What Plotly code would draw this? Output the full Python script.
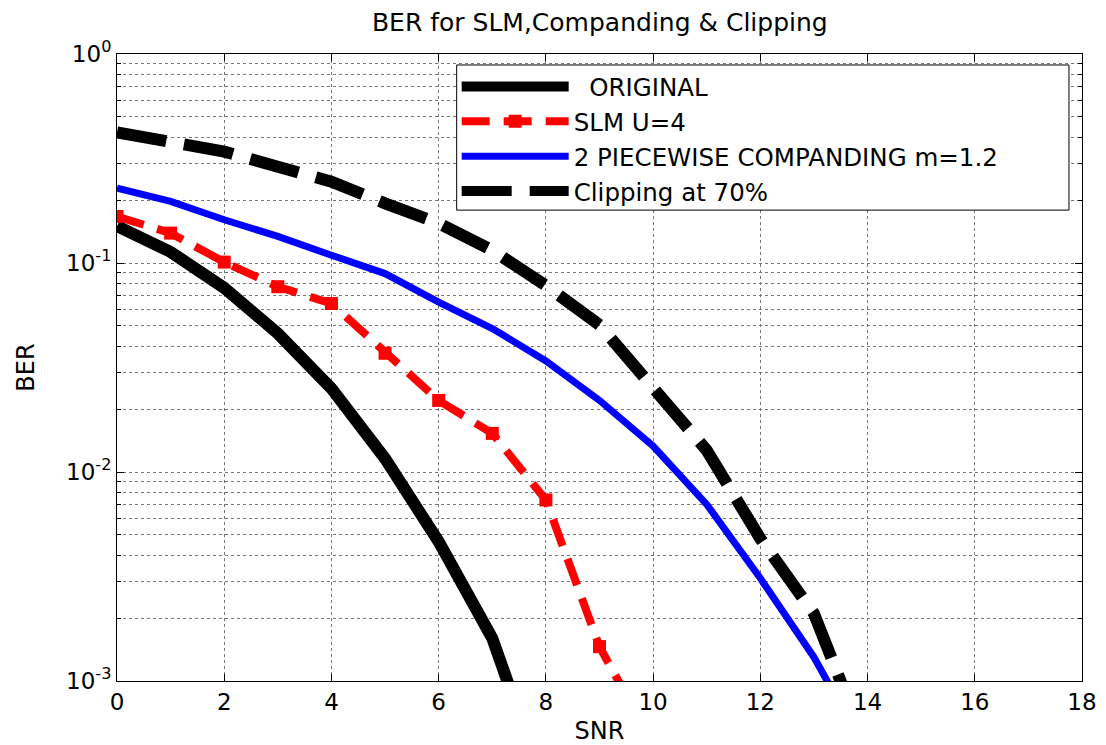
import plotly.graph_objects as go

snr = list(range(0, 15))

ber_original = [0.150, 0.113, 0.076, 0.046, 0.0251, 0.0116, 0.00464, 0.0016, 0.0003]
ber_slm = [0.167, 0.139, 0.101, 0.077, 0.064, 0.037, 0.022, 0.0153, 0.00735, 0.00146, 0.0005]
ber_companding = [0.228, 0.197, 0.161, 0.134, 0.109, 0.089, 0.065, 0.0486, 0.034, 0.022,
                  0.0133, 0.0070, 0.0031, 0.0013, 0.00045]
ber_clipping = [0.422, 0.38, 0.341, 0.289, 0.245, 0.193, 0.155, 0.115, 0.078, 0.0505,
                0.0255, 0.0127, 0.0048, 0.0021, 0.00047]

names = ["  ORIGINAL", "SLM U=4", "2 PIECEWISE COMPANDING m=1.2", "Clipping at 70%"]

y_tickvals = [1e-3, 1e-2, 1e-1, 1]
y_ticktext = ["10<sup>-3</sup>", "10<sup>-2</sup>", "10<sup>-1</sup>", "10<sup>0</sup>"]
x_tickvals = list(range(0, 19, 2))

minor_vals = [m * 10 ** e for e in (-3, -2, -1) for m in range(2, 10)]

FONT = "DejaVu Sans, Liberation Sans, Arial, sans-serif"

fig = go.Figure()
fig.add_trace(go.Scatter(x=snr[:len(ber_original)], y=ber_original, name=names[0],
                         legendgroup="a", mode="lines", line=dict(color="black", width=12)))
fig.add_trace(go.Scatter(x=snr[:len(ber_slm)], y=ber_slm, name=names[1], legendgroup="b",
                         mode="lines+markers",
                         line=dict(color="#ff0000", width=8, dash="28px,14px"),
                         marker=dict(symbol="square", size=13, color="#ff0000")))
fig.add_trace(go.Scatter(x=snr, y=ber_companding, name=names[2], legendgroup="c",
                         mode="lines", line=dict(color="#0000ff", width=7)))
fig.add_trace(go.Scatter(x=snr, y=ber_clipping, name=names[3], legendgroup="d",
                         mode="lines", line=dict(color="black", width=12, dash="50px,18px")))

axis_common = dict(showline=True, linecolor="black", linewidth=1, mirror="ticks",
                   ticks="inside", ticklen=7, tickcolor="black", zeroline=False,
                   showgrid=True, gridcolor="#777777", gridwidth=1, griddash="dot",
                   automargin=False,
                   tickfont=dict(family=FONT, size=23, color="black"))

fig.update_xaxes(range=[0, 18], tickvals=x_tickvals,
                 title=dict(text="SNR", standoff=12, font=dict(family=FONT, size=24, color="black")),
                 **axis_common)
fig.update_yaxes(type="log", range=[-3, 0], tickvals=y_tickvals, ticktext=y_ticktext,
                 title=dict(text="BER", standoff=24, font=dict(family=FONT, size=24, color="black")),
                 minor=dict(tickmode="array", tickvals=minor_vals, showgrid=True,
                            gridcolor="#777777", griddash="dot", gridwidth=1,
                            ticks="inside", ticklen=4, tickcolor="black"),
                 **axis_common)

# legend frame (white box with black border), drawn above the curves
fig.add_shape(type="rect", xref="paper", yref="paper", x0=0.352, x1=0.9865, y0=0.751, y1=0.9825,
              fillcolor="white", line=dict(color="black", width=1), layer="above")

fig.update_layout(
    width=1098, height=737,
    margin=dict(l=109, r=24, t=46, b=64, autoexpand=False),
    paper_bgcolor="white", plot_bgcolor="white",
    title=dict(text="BER for SLM,Companding & Clipping", x=0.539, xanchor="center",
               y=0.981, yanchor="middle", font=dict(family=FONT, size=25, color="black")),
    font=dict(family=FONT, color="black"),
    legend=dict(x=0.352, y=0.984, xanchor="left", yanchor="top",
                bgcolor="rgba(0,0,0,0)", borderwidth=0,
                font=dict(family=FONT, size=24.5, color="black"),
                itemwidth=107, tracegroupgap=0),
    showlegend=True,
)

fig.write_html("out.html")
